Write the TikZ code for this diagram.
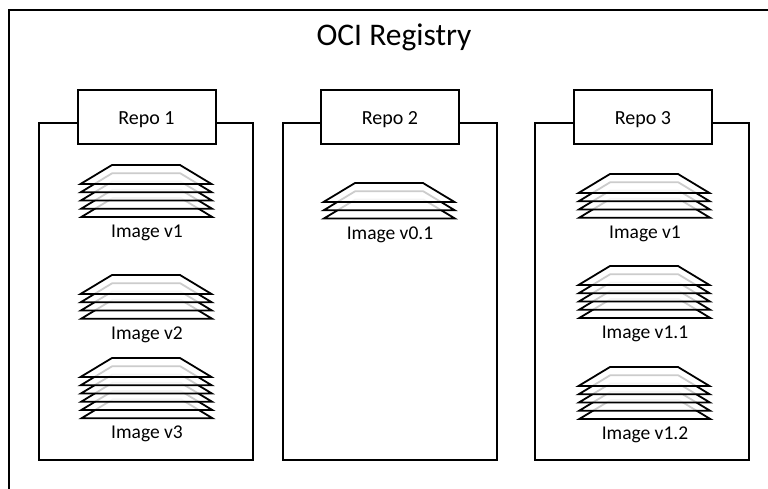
\documentclass[tikz,border=0pt]{standalone}
\usepackage{fontspec}
\setmainfont{Carlito}
\usetikzlibrary{positioning}

% One image: layers drawn from the bottom one up
\newcommand{\imagestack}[5]{%
  \foreach \layer in {#4,...,0} {
    \draw[layer] ({#1+1.5+\layer*0.2},{#2+\layer*8.25+19})
      -- ({#1+33+\layer*0.2},{#2+\layer*8.25})
      -- ({#1+101+\layer*0.2},{#2+\layer*8.25})
      -- ({#1+132.5+\layer*0.2},{#2+\layer*8.25+19}) -- cycle;
  }
  \node[imagelabel] (#3) at ({#1+68},{#2+#4*8.25+35}) {#5};
}

\begin{document}
\begin{tikzpicture}[x=1pt, y=-1pt]
      % Define the styles
      \tikzset{
        frame/.style={draw, line width=2pt, line join=miter},
        repoframe/.style={draw, line width=2pt, fill=white, minimum width=214pt, minimum height=336pt, anchor=north west},
        repolabel/.style={draw, line width=2pt, fill=white, minimum width=138pt, minimum height=54pt, text depth=0pt, font=\fontsize{20}{22}\selectfont},
        layer/.style={draw, line width=1.8pt, fill=white, fill opacity=0.8, line join=miter},
        imagelabel/.style={font=\fontsize{19.5}{22}\selectfont, inner sep=0pt}
      }

      \useasboundingbox (0,0) rectangle (768,489);

      % Outer frame, cut off by the page
      \draw[frame] (768,10) -- (9,10) -- (9,489);
      \node[font=\fontsize{31.5}{34}\selectfont, inner sep=0pt] (title) at (394,37) {OCI Registry};

      % Repo frames
      \node[repoframe] (frame1) at (38,122.5) {};
      \node[repoframe] (frame2) at (282,122.5) {};
      \node[repoframe] (frame3) at (534,122.5) {};

      % Repo labels
      \node[repolabel] (repo1) at (146.5,117) {\raisebox{-2pt}{Repo 1}};
      \node[repolabel] (repo2) at (390,117) {\raisebox{-2pt}{Repo 2}};
      \node[repolabel] (repo3) at (643,117) {\raisebox{-2pt}{Repo 3}};

      % Images
      \imagestack{79}{165}{imga}{4}{Image v1}
      \imagestack{79}{275}{imgb}{3}{Image v2}
      \imagestack{79}{358}{imgc}{5}{Image v3}
      \imagestack{322}{183}{imgd}{2}{Image v0.1}
      \imagestack{577}{174}{imge}{3}{Image v1}
      \imagestack{577}{266}{imgf}{4}{Image v1.1}
      \imagestack{577}{367}{imgg}{4}{Image v1.2}

    \end{tikzpicture}
\end{document}
